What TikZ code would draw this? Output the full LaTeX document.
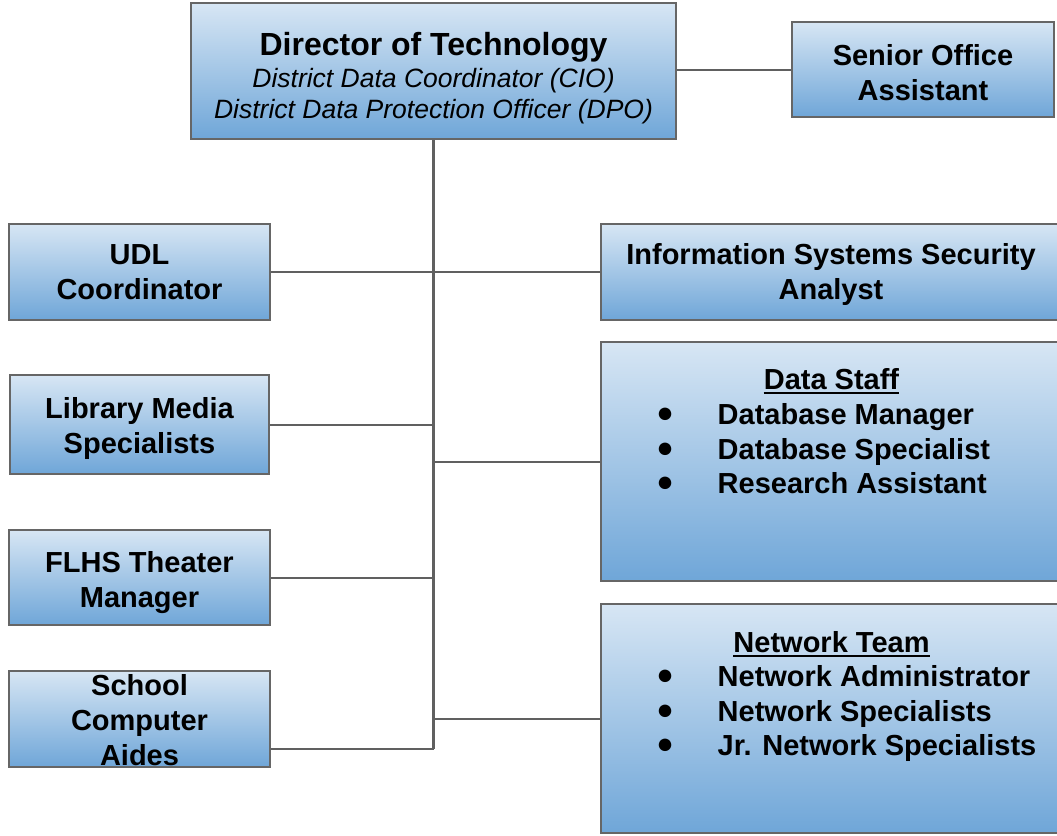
\documentclass[tikz,border=0pt]{standalone}
\usepackage{fontspec}
\setmainfont{Liberation Sans}
\definecolor{boxline}{RGB}{102,102,102}
\definecolor{connline}{RGB}{96,96,96}
\definecolor{boxtop}{RGB}{215,230,244}
\definecolor{boxbot}{RGB}{111,166,216}
\newcommand\bodyfont{\fontsize{29}{35}\selectfont\bfseries}
\newcommand\titlefont{\fontsize{32}{34}\selectfont\bfseries}
\newcommand\subfont{\fontsize{26.5}{31}\selectfont\itshape}
\newcommand\bulfont{\fontsize{29}{29}\selectfont}
\tikzset{
  box/.style={draw=boxline, line width=2pt, top color=boxtop, bottom color=boxbot, rectangle, inner sep=0pt},
  conn/.style={draw=connline, line width=2pt},
  trunk/.style={draw=connline, line width=2.7pt},
  lbl/.style={anchor=north, inner sep=0pt, align=center, font=\bodyfont},
  oneline/.style={anchor=base, inner sep=0pt},
  item/.style={anchor=base west, inner sep=0pt, font=\bodyfont},
  bul/.style={anchor=center, inner sep=0pt, font=\bulfont},
}
\begin{document}
\begin{tikzpicture}[x=1pt,y=-1pt]
\useasboundingbox[fill=white] (0,0) rectangle (1057,835);

% boxes
\node[box, minimum width=485pt, minimum height=136pt] (dir) at (433.5,71) {};
\node[box, minimum width=262pt, minimum height=95pt] (sen) at (923,69.5) {};
\node[box, minimum width=261pt, minimum height=96pt] (udl) at (139.5,272) {};
\node[box, minimum width=259pt, minimum height=99pt] (lib) at (139.5,424.5) {};
\node[box, minimum width=261pt, minimum height=95pt] (flhs) at (139.5,577.5) {};
\node[box, minimum width=261pt, minimum height=96pt] (aides) at (139.5,719) {};
\node[box, minimum width=469pt, minimum height=96pt] (info) at (835.5,272) {};
\node[box, minimum width=469pt, minimum height=239pt] (data) at (835.5,461.5) {};
\node[box, minimum width=469pt, minimum height=229pt] (net) at (835.5,718.5) {};

% connectors
\coordinate (tb) at (433.5,749);
\draw[conn] (sen.west) -- (sen.west -| dir.east);
\draw[trunk] (dir.south) -- (tb);
\draw[conn] (tb) -- (tb -| aides.east);
\draw[conn] (udl.east) -- (udl.east -| dir.south);
\draw[conn] (lib.east) -- (lib.east -| dir.south);
\draw[conn] (flhs.east) -- (flhs.east -| dir.south);
\draw[conn] (info.west) -- (info.west -| dir.south);
\draw[conn] (data.west) -- (data.west -| dir.south);
\draw[conn] (net.west) -- (net.west -| dir.south);

% director text
\node[oneline, font=\titlefont] (dirT) at (433.5,55.5) {Director of Technology};
\node[oneline, font=\subfont] (dirA) at (433.5,87) {District Data Coordinator (CIO)};
\node[oneline, font=\subfont] (dirB) at (433.5,118) {District Data Protection Officer (DPO)};

% box labels
\node[lbl] (senT) at (923,44.2) {Senior Office\\Assistant};
\node[lbl] (udlT) at (139.5,244.2) {UDL\\Coordinator};
\node[lbl] (libT) at (139.5,397.5) {Library Media\\Specialists};
\node[lbl] (flT) at (139.5,551) {FLHS Theater\\Manager};
\node[lbl] (aiT) at (139.5,674.2) {School\\Computer\\Aides};
\node[lbl] (infT) at (831,243.5) {Information Systems Security\\Analyst};

% data staff
\node[oneline, font=\bodyfont] (dsH) at (831.5,389.3) {Data Staff};
\draw[line width=2pt] ([yshift=-3.5pt]dsH.base west) -- ([yshift=-3.5pt]dsH.base east);
\node[bul] (db1) at (665,415) {●};
\node[bul] (db2) at (665,450) {●};
\node[bul] (db3) at (665,484.5) {●};
\node[item] (ds1) at (717.5,424.3) {Database Manager};
\node[item] (ds2) at (717.5,459.3) {Database Specialist};
\node[item] (ds3) at (717.5,493.8) {Research Assistant};

% network team
\node[oneline, font=\bodyfont] (ntH) at (831.5,652.3) {Network Team};
\draw[line width=2pt] ([yshift=-3.5pt]ntH.base west) -- ([yshift=-3.5pt]ntH.base east);
\node[bul] (nb1) at (665,677.5) {●};
\node[bul] (nb2) at (665,712) {●};
\node[bul] (nb3) at (665,746.5) {●};
\node[item] (nt1) at (717.5,686.7) {Network Administrator};
\node[item] (nt2) at (717.5,721) {Network Specialists};
\node[item] (nt3) at (717.5,755.7) {Jr. Network Specialists};
\end{tikzpicture}
\end{document}
